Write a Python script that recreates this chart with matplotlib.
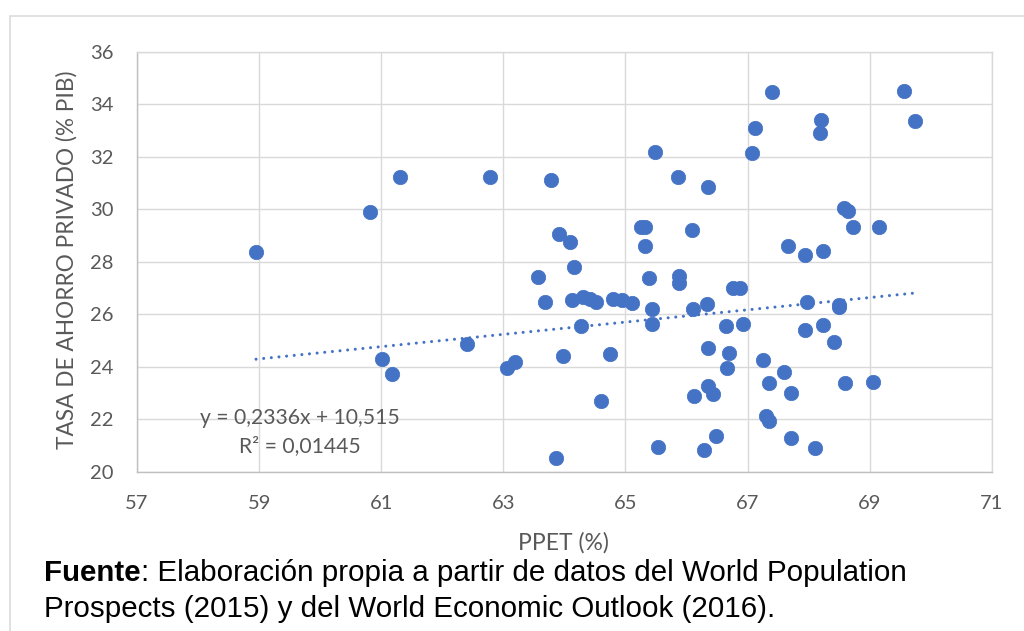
import matplotlib
matplotlib.use("Agg")
import matplotlib.pyplot as plt
from matplotlib.patches import Rectangle
import numpy as np

# Data
ppet = [58.95, 60.81, 61.30, 61.01, 61.18, 62.40, 62.78, 63.06, 63.19, 63.78,
        63.57, 63.68, 63.91, 64.09, 63.98, 63.87, 64.16, 64.12, 64.31, 64.42,
        64.52, 64.28, 64.75, 64.60, 64.80, 64.94, 65.10, 65.25, 65.32, 65.32,
        65.38, 65.44, 65.44, 65.48, 65.54, 65.86, 65.88, 65.88, 66.09, 66.11,
        66.12, 66.33, 66.36, 66.36, 66.36, 66.43, 66.28, 66.48, 66.64, 66.67,
        66.69, 66.77, 66.88, 66.93, 67.08, 67.12, 67.40, 67.25, 67.30, 67.36,
        67.36, 67.59, 67.67, 67.71, 67.71, 67.94, 67.94, 67.97, 68.11, 68.18,
        68.20, 68.24, 68.24, 68.42, 68.50, 68.50, 68.60, 68.58, 68.64, 68.72,
        69.06, 69.16, 69.56, 69.74]
ahorro = [28.36, 29.88, 31.24, 24.28, 23.71, 24.86, 31.24, 23.94, 24.17, 31.11,
          27.43, 26.48, 29.04, 28.74, 24.42, 20.51, 27.81, 26.54, 26.67, 26.57,
          26.45, 25.56, 24.47, 22.69, 26.57, 26.54, 26.42, 29.31, 29.31, 28.60,
          27.37, 26.20, 25.63, 32.17, 20.95, 31.24, 27.46, 27.18, 29.21, 26.20,
          22.88, 26.38, 30.86, 24.72, 23.28, 22.96, 20.83, 21.36, 25.55, 23.96,
          24.51, 26.99, 27.01, 25.63, 32.13, 33.08, 34.48, 24.26, 22.13, 21.94,
          23.37, 23.81, 28.60, 23.01, 21.27, 28.26, 25.40, 26.48, 20.89, 32.89,
          33.40, 28.42, 25.59, 24.95, 26.35, 26.29, 23.39, 30.03, 29.94, 29.31,
          23.43, 29.31, 34.50, 33.37]
slope = 0.2336
intercept = 10.515
eq_text = "y = 0,2336x + 10,515"
r2_text = "R² = 0,01445"
x_ticks = [57, 59, 61, 63, 65, 67, 69, 71]
y_ticks = [20, 22, 24, 26, 28, 30, 32, 34, 36]
xlabel = "PPET (%)"
ylabel = "TASA DE AHORRO PRIVADO (% PIB)"
source_bold = "Fuente"
source_line1 = ": Elaboración propia a partir de datos del World Population"
source_line2 = "Prospects (2015) y del World Economic Outlook (2016)."

BLUE = "#4472C4"
GRAY_TXT = "#595959"
GRID = "#d9d9d9"
AXIS = "#bfbfbf"
UIFONT = ["Lato", "DejaVu Sans"]
SRCFONT = ["Liberation Sans", "DejaVu Sans"]

fig = plt.figure(figsize=(10.24, 6.31), dpi=100)
W, H = 1024, 631

# outer chart frame
fig.patches.append(Rectangle((10 / W, -0.05), 1.1, 1 - 16 / H + 0.05,
                             transform=fig.transFigure, fill=False,
                             edgecolor=GRID, linewidth=1.1, zorder=0))

ax = fig.add_axes([137 / W, 1 - 471.7 / H, (991.7 - 137) / W, (471.7 - 51.7) / H])
ax.set_xlim(57, 71)
ax.set_ylim(20, 36)
ax.set_xticks(x_ticks)
ax.set_yticks(y_ticks)
ax.grid(True, color=GRID, linewidth=1.0)
ax.set_axisbelow(True)
for s in ["top", "right"]:
    ax.spines[s].set_color(GRID)
    ax.spines[s].set_linewidth(1.0)
for s in ["left", "bottom"]:
    ax.spines[s].set_color(AXIS)
    ax.spines[s].set_linewidth(1.0)
ax.tick_params(length=0, labelsize=14.5, labelcolor=GRAY_TXT)
ax.tick_params(axis="y", pad=16.6)
ax.tick_params(axis="x", pad=16.8)
for lab in ax.get_xticklabels() + ax.get_yticklabels():
    lab.set_fontfamily(UIFONT)

ax.scatter(ppet, ahorro, s=108, color=BLUE, edgecolors=BLUE, linewidths=0.5, zorder=3)

xs = np.array([min(ppet), max(ppet)])
ax.plot(xs, slope * xs + intercept, color=BLUE, linewidth=2.2,
        linestyle=(0, (0.01, 2.5)), dash_capstyle="round", zorder=2)

fig.text(300 / W, 1 - 418.5 / H, eq_text, fontsize=15.2,
         color=GRAY_TXT, family=UIFONT, ha="center", va="center")
fig.text(300 / W, 1 - 446.5 / H, r2_text, fontsize=15.2,
         color=GRAY_TXT, family=UIFONT, ha="center", va="center")

fig.text(563 / W, 1 - 543 / H, xlabel, fontsize=16.5, color=GRAY_TXT,
         family=UIFONT, ha="center", va="center")
fig.text(66.5 / W, 1 - 260 / H, ylabel, fontsize=16.3, color=GRAY_TXT,
         family=UIFONT, ha="center", va="center", rotation=90)

# source note
FS = 21.25
tb = fig.text(44 / W, 1 - 581 / H, source_bold, fontsize=FS, color="black",
              family=SRCFONT, fontweight="bold", ha="left", va="baseline")
fig.canvas.draw()
bb = tb.get_window_extent()
fig.text(bb.x1 / W, 1 - 581 / H, source_line1, fontsize=FS, color="black",
         family=SRCFONT, ha="left", va="baseline")
fig.text(44 / W, 1 - 617 / H, source_line2, fontsize=FS, color="black",
         family=SRCFONT, ha="left", va="baseline")

fig.savefig("out.png", dpi=100)
